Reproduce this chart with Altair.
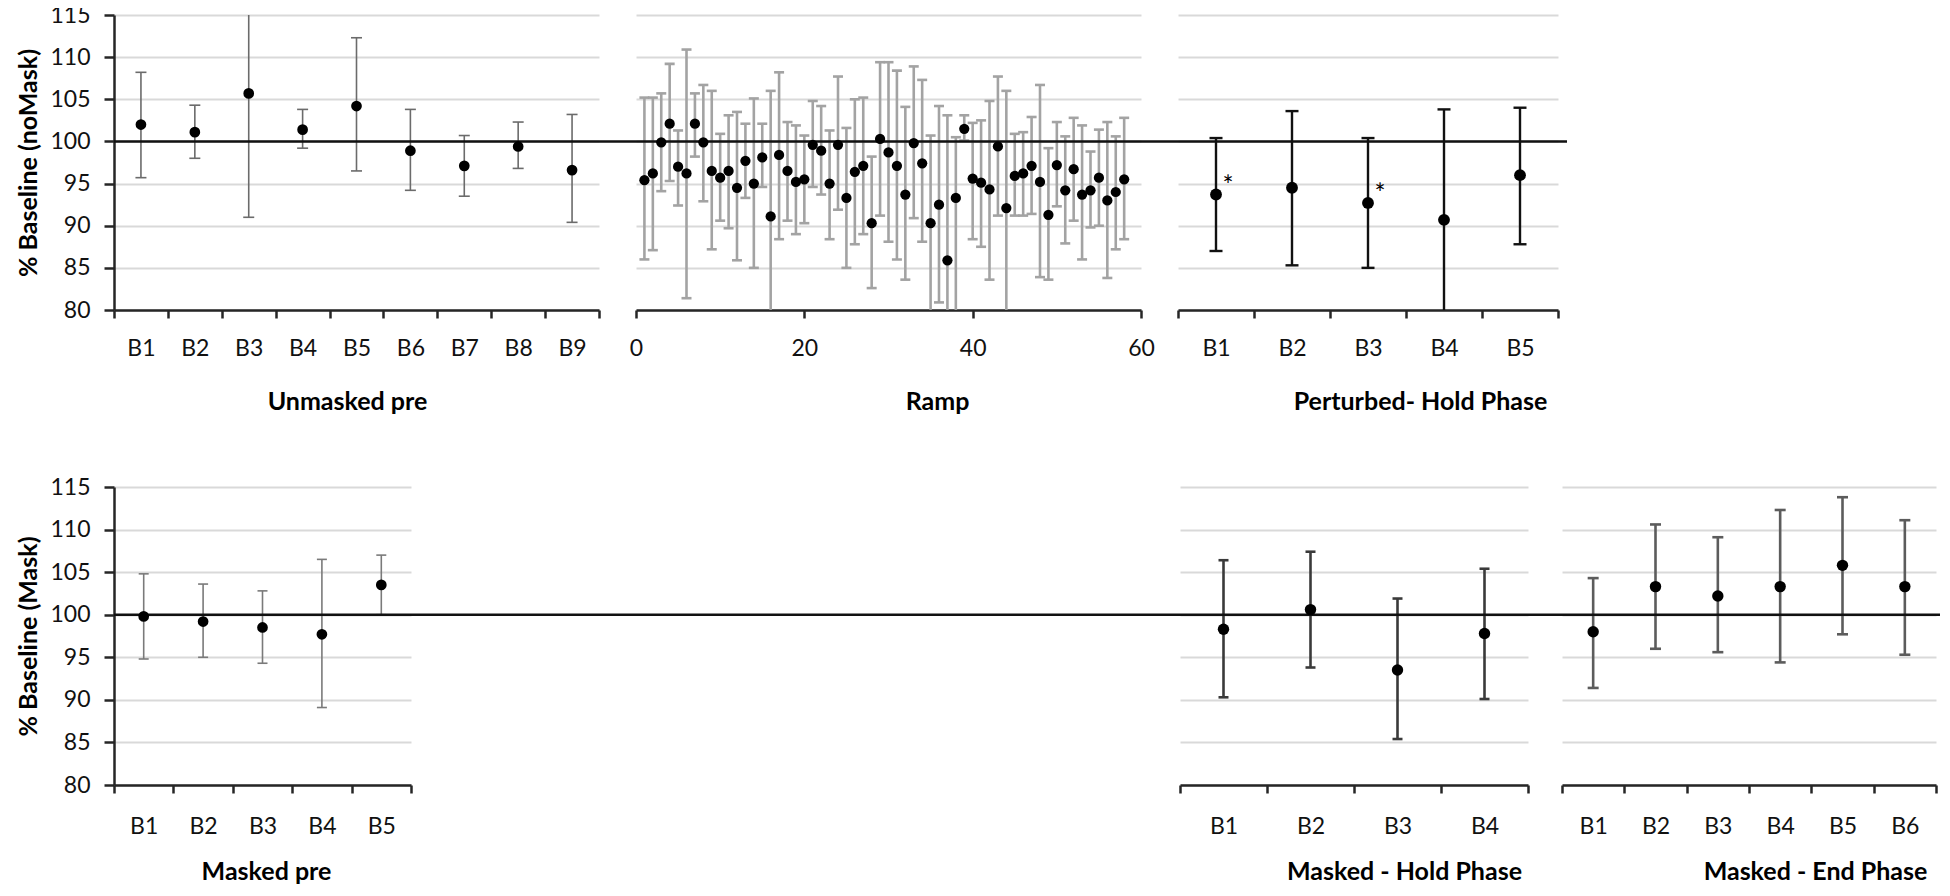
import json
import altair as alt
import pandas as pd

FONT = "Lato"
Y_TICKS = [80, 85, 90, 95, 100, 105, 110, 115]
BASELINE = [100]

# ---------------- data ----------------
unmasked_labels = ["B1", "B2", "B3", "B4", "B5", "B6", "B7", "B8", "B9"]
unmasked_mean = [102.0, 101.1, 105.7, 101.4, 104.2, 98.9, 97.1, 99.4, 96.6]
unmasked_low = [95.7, 98.0, 91.0, 99.2, 96.5, 94.2, 93.5, 96.8, 90.4]
unmasked_high = [108.2, 104.3, 119.0, 103.8, 112.3, 103.8, 100.7, 102.3, 103.2]

ramp_trial = list(range(1, 59))
ramp_mean = [95.4, 96.2, 99.9, 102.1, 97.0, 96.2, 102.1, 99.9, 96.5, 95.7,
             96.5, 94.5, 97.7, 95.0, 98.1, 91.1, 98.4, 96.5, 95.2, 95.5,
             99.6, 98.9, 95.0, 99.6, 93.3, 96.4, 97.1, 90.3, 100.3, 98.7,
             97.1, 93.7, 99.8, 97.4, 90.3, 92.5, 85.9, 93.3, 101.5, 95.6,
             95.1, 94.3, 99.4, 92.1, 95.9, 96.2, 97.1, 95.2, 91.3, 97.2,
             94.2, 96.7, 93.7, 94.2, 95.7, 93.0, 94.0, 95.5]
ramp_high = [105.2, 105.2, 105.7, 109.2, 101.3, 110.9, 105.7, 106.7, 106.0, 100.9,
             103.1, 103.5, 102.1, 105.1, 102.1, 106.0, 108.2, 102.3, 101.9, 100.7,
             104.8, 104.2, 101.3, 107.7, 101.6, 105.0, 105.2, 98.2, 109.4, 109.4,
             108.4, 104.1, 108.9, 107.3, 100.7, 104.2, 103.1, 100.5, 103.1, 102.2,
             102.5, 104.8, 107.7, 106.0, 100.9, 101.1, 102.9, 106.7, 99.2, 102.3,
             100.6, 102.8, 101.9, 98.8, 101.4, 102.3, 100.6, 102.8]
ramp_low = [86.0, 87.1, 94.1, 95.3, 92.4, 81.4, 98.2, 92.9, 87.2, 90.6,
            89.7, 85.9, 93.3, 85.0, 94.6, 78.0, 88.4, 90.6, 89.0, 90.3,
            94.6, 93.7, 88.4, 91.9, 85.0, 87.8, 89.0, 82.6, 91.2, 88.1,
            86.0, 83.6, 90.9, 88.1, 78.5, 80.9, 78.0, 78.5, 100.1, 88.4,
            87.5, 83.6, 91.2, 78.5, 91.2, 91.2, 91.4, 83.9, 83.6, 92.3,
            87.9, 90.6, 86.0, 89.8, 90.0, 83.8, 87.2, 88.4]
ramp_ticks = [0, 20, 40, 60]

perturbed_labels = ["B1", "B2", "B3", "B4", "B5"]
perturbed_mean = [93.7, 94.5, 92.7, 90.7, 96.0]
perturbed_low = [87.0, 85.3, 85.0, 79.0, 87.8]
perturbed_high = [100.4, 103.6, 100.4, 103.8, 104.0]
perturbed_sig = ["*", "", "*", "", ""]

masked_pre_labels = ["B1", "B2", "B3", "B4", "B5"]
masked_pre_mean = [99.8, 99.2, 98.5, 97.7, 103.5]
masked_pre_low = [94.8, 95.0, 94.3, 89.1, 100.0]
masked_pre_high = [104.8, 103.6, 102.8, 106.5, 107.0]

hold_labels = ["B1", "B2", "B3", "B4"]
hold_mean = [98.3, 100.6, 93.5, 97.8]
hold_low = [90.3, 93.8, 85.4, 90.1]
hold_high = [106.4, 107.4, 101.9, 105.4]

end_labels = ["B1", "B2", "B3", "B4", "B5", "B6"]
end_mean = [98.0, 103.3, 102.2, 103.3, 105.8, 103.3]
end_low = [91.4, 96.0, 95.6, 94.4, 97.7, 95.3]
end_high = [104.3, 110.6, 109.1, 112.3, 113.8, 111.1]


def cat_df(labels, mean, low, high, extra=None):
    d = {"pos": [i + 1 for i in range(len(labels))], "label": labels,
         "mean": mean, "low": low, "high": high}
    if extra:
        d.update(extra)
    return pd.DataFrame(d)


def cat_x(labels, title, title_x, label_pad, title_y):
    n = len(labels)
    ticks = [k / 2 for k in range(1, 2 * n + 2)]
    expr = "datum.value % 1 === 0 ? " + json.dumps(labels) + "[datum.value - 1] : ''"
    axis = alt.Axis(
        values=ticks, labelExpr=expr,
        tickOpacity={"condition": {"test": "datum.value % 1 !== 0", "value": 1}, "value": 0},
        grid=False, tickSize=8, labelPadding=label_pad, labelBaseline="middle",
        labelFlush=False, labelOverlap=False, title=title, titleX=title_x,
        titleY=title_y, titleBaseline="middle",
    )
    scale = alt.Scale(domain=[0.5, n + 0.5], nice=False, zero=False)
    return "pos", scale, axis


def y_axis(title=None):
    if title:
        return alt.Axis(values=Y_TICKS, title=title, tickSize=10, labelPadding=14,
                        titlePadding=8, grid=True)
    return alt.Axis(values=Y_TICKS, title=None, labels=False, ticks=False,
                    domain=False, grid=True)


def panel(df, xspec, yax, width, height, ext, st, sig=False):
    xfield, xscale, xaxis = xspec
    ysc = alt.Scale(domain=[80, 115], nice=False, zero=False)

    def X():
        return alt.X(f"{xfield}:Q", scale=xscale, axis=xaxis)

    def Y(f):
        return alt.Y(f"{f}:Q", scale=ysc, axis=yax)

    base = alt.Chart(df)
    err = base.mark_rule(color=st["color"], strokeWidth=st["w"], clip=True).encode(
        x=X(), y=Y("low"), y2="high:Q")
    cap_lo = base.mark_tick(orient="horizontal", color=st["color"], size=st["cap"],
                            thickness=st["w"], clip=True, opacity=1).encode(x=X(), y=Y("low"))
    cap_hi = base.mark_tick(orient="horizontal", color=st["color"], size=st["cap"],
                            thickness=st["w"], clip=True, opacity=1).encode(x=X(), y=Y("high"))
    line = alt.Chart(pd.DataFrame({"value": BASELINE})).mark_rule(
        color="#111111", strokeWidth=2.5).encode(
        y=Y("value"), x=alt.value(0), x2=alt.value(width + ext))
    dots = base.mark_circle(color="#000000", opacity=1, size=st["dot"]).encode(
        x=X(), y=Y("mean"))
    layers = [err, cap_lo, cap_hi, line, dots]
    if sig:
        layers.append(base.mark_text(font=FONT, fontSize=26, dx=12, dy=-8,
                                     color="#000000").encode(x=X(), y=Y("mean"), text="sig:N"))
    return alt.layer(*layers).properties(width=width, height=height)


TOP_H, BOT_H = 295, 298
TOP_LP, BOT_LP = 30, 33
TOP_TY, BOT_TY = 91, 86
ROW_GAP = 177

unmasked = panel(
    cat_df(unmasked_labels, unmasked_mean, unmasked_low, unmasked_high),
    cat_x(unmasked_labels, "Unmasked pre", 233, TOP_LP, TOP_TY),
    y_axis("% Baseline (noMask)"), 485, TOP_H, 37,
    {"color": "#6b6b6b", "w": 1.6, "cap": 11, "dot": 115})

ramp_df = pd.DataFrame({"trial": ramp_trial, "mean": ramp_mean,
                        "low": ramp_low, "high": ramp_high})
ramp_x = ("trial",
          alt.Scale(domain=[0, 60], nice=False, zero=False),
          alt.Axis(values=ramp_ticks, grid=False, tickSize=8, labelPadding=TOP_LP,
                   labelBaseline="middle", labelFlush=False, title="Ramp",
                   titleX=301, titleY=TOP_TY, titleBaseline="middle"))
ramp = panel(ramp_df, ramp_x, y_axis(), 505, TOP_H, 37,
             {"color": "#a3a3a3", "w": 2.6, "cap": 10, "dot": 105})

perturbed = panel(
    cat_df(perturbed_labels, perturbed_mean, perturbed_low, perturbed_high,
           {"sig": perturbed_sig}),
    cat_x(perturbed_labels, "Perturbed- Hold Phase", 242, TOP_LP, TOP_TY),
    y_axis(), 380, TOP_H, 9,
    {"color": "#111111", "w": 2.4, "cap": 13, "dot": 140}, sig=True)

masked_pre = panel(
    cat_df(masked_pre_labels, masked_pre_mean, masked_pre_low, masked_pre_high),
    cat_x(masked_pre_labels, "Masked pre", 152, BOT_LP, BOT_TY),
    y_axis("% Baseline (Mask)"), 297, BOT_H, 769,
    {"color": "#7a7a7a", "w": 1.6, "cap": 10, "dot": 115})

hold = panel(
    cat_df(hold_labels, hold_mean, hold_low, hold_high),
    cat_x(hold_labels, "Masked - Hold Phase", 224, BOT_LP, BOT_TY),
    y_axis(), 348, BOT_H, 34,
    {"color": "#3a3a3a", "w": 2.6, "cap": 10, "dot": 130})

end = panel(
    cat_df(end_labels, end_mean, end_low, end_high),
    cat_x(end_labels, "Masked - End Phase", 253, BOT_LP, BOT_TY),
    y_axis(), 374, BOT_H, 4,
    {"color": "#5c5c5c", "w": 2.6, "cap": 11, "dot": 130})

top = alt.hconcat(unmasked, ramp, perturbed, spacing=37, bounds="flush")
bottom = alt.hconcat(
    masked_pre,
    alt.hconcat(hold, end, spacing=34, bounds="flush"),
    spacing=769, bounds="flush")

# with flush bounds a nested row counts as zero height, so the row offset
# is the top panel height plus the gap between the two rows
chart = alt.vconcat(top, bottom, spacing=TOP_H + ROW_GAP, bounds="flush").properties(
    padding={"left": 8, "top": -4, "right": 0, "bottom": 0},
    background="white",
).configure_view(strokeWidth=0).configure_axis(
    labelFont=FONT, titleFont=FONT, labelFontSize=23, titleFontSize=25,
    titleFontWeight="bold", labelColor="#111111", titleColor="#000000",
    domainColor="#262626", tickColor="#262626", domainWidth=2.5, tickWidth=2.5,
    gridColor="#d9d9d9", gridWidth=2,
)

chart.save("out.html", embed_options={"renderer": "svg", "actions": False})
